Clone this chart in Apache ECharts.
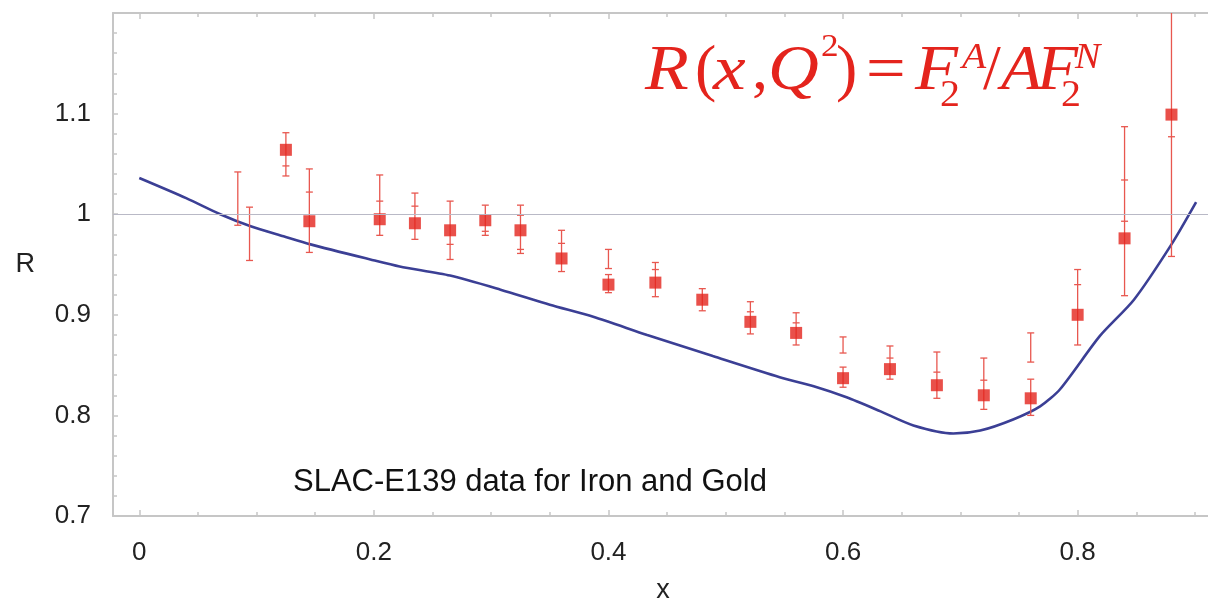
<!DOCTYPE html>
<html><head><meta charset="utf-8">
<script src="https://cdn.jsdelivr.net/npm/echarts@6/dist/echarts.min.js"></script>
<style>html,body{margin:0;padding:0;background:#fff}#c{width:1208px;height:598px}</style>
</head><body><div id="c"></div>
<script>
// ---- data ----
const pointX  = [0.125, 0.145, 0.205, 0.235, 0.265, 0.295, 0.325, 0.360, 0.400, 0.440, 0.480, 0.521, 0.560, 0.600, 0.640, 0.680, 0.720, 0.760, 0.800, 0.840, 0.880];
const pointR  = [1.064, 0.993, 0.995, 0.991, 0.984, 0.994, 0.984, 0.956, 0.930, 0.932, 0.915, 0.893, 0.882, 0.837, 0.846, 0.830, 0.820, 0.817, 0.900, 0.976, 1.099];
const barLow  = [1.038, 0.962, 0.979, 0.975, 0.955, 0.979, 0.961, 0.943, 0.922, 0.918, 0.904, 0.881, 0.870, 0.828, 0.836, 0.817, 0.806, 0.800, 0.870, 0.919, 0.958];
const barHigh = [1.081, 1.045, 1.039, 1.021, 1.013, 1.009, 1.009, 0.984, 0.940, 0.952, 0.926, 0.913, 0.902, 0.848, 0.869, 0.863, 0.857, 0.836, 0.945, 1.087, 1.250];

// inner (statistical) error-bar caps
const tickX = [0.125, 0.145, 0.205, 0.235, 0.265, 0.295, 0.325, 0.325, 0.360, 0.440, 0.521, 0.560, 0.640, 0.680, 0.720, 0.800, 0.840, 0.840, 0.880];
const tickR = [1.048, 1.022, 1.013, 1.008, 0.970, 0.983, 0.965, 0.999, 0.971, 0.945, 0.903, 0.892, 0.857, 0.843, 0.835, 0.930, 0.993, 1.034, 1.077];

// error bars drawn without a marker
const extraX    = [0.084, 0.094, 0.400, 0.600, 0.760];
const extraLow  = [0.989, 0.954, 0.946, 0.862, 0.853];
const extraHigh = [1.042, 1.007, 0.965, 0.878, 0.882];

// theory curve
const curveX = [0, 0.040, 0.069, 0.095, 0.123, 0.146, 0.197, 0.222, 0.265, 0.308, 0.350, 0.387, 0.433, 0.489, 0.546, 0.575, 0.603, 0.632, 0.660, 0.694, 0.717, 0.745, 0.768, 0.785, 0.819, 0.848, 0.880, 0.901];
const curveR = [1.036, 1.016, 1.000, 0.988, 0.978, 0.970, 0.955, 0.948, 0.939, 0.925, 0.910, 0.898, 0.880, 0.859, 0.838, 0.829, 0.818, 0.804, 0.790, 0.782, 0.785, 0.796, 0.809, 0.826, 0.879, 0.915, 0.970, 1.012];

const xMajor = [0, 0.2, 0.4, 0.6, 0.8];
const xMinor = [0.05, 0.1, 0.15, 0.25, 0.3, 0.35, 0.45, 0.5, 0.55, 0.65, 0.7, 0.75, 0.85, 0.9];

// ---- styling ----
const XMIN = -0.0224, XMAX = 0.9154;
const frame = '#c6c6c6';
const red = '#e4241d';
const barColor = '#e8574f';
const labelFont = 'Liberation Sans, Arial, sans-serif';

function renderBar(params, api) {
  const x = api.value(0), lo = api.value(1), hi = api.value(2);
  const a = api.coord([x, lo]), b = api.coord([x, hi]);
  const w = 3.5;
  const st = { stroke: barColor, lineWidth: 1.3 };
  return { type: 'group', children: [
    { type: 'line', shape: { x1: a[0], y1: a[1], x2: b[0], y2: b[1] }, style: st },
    { type: 'line', shape: { x1: a[0] - w, y1: a[1], x2: a[0] + w, y2: a[1] }, style: st },
    { type: 'line', shape: { x1: b[0] - w, y1: b[1], x2: b[0] + w, y2: b[1] }, style: st }
  ]};
}
function renderTick(params, api) {
  const p = api.coord([api.value(0), api.value(1)]);
  return { type: 'line', shape: { x1: p[0] - 3.5, y1: p[1], x2: p[0] + 3.5, y2: p[1] }, style: { stroke: barColor, lineWidth: 1.3 } };
}

// equation glyphs: [text, left, baseline, size, italic, scaleX]
const eq = [
  ['R', 645, 92, 64, true, 1.12], ['(', 695, 92, 64, false, 1], ['x', 713, 92, 64, true, 1.15], [',', 752, 92, 64, false, 1],
  ['Q', 768, 92, 64, true, 1.1], ['2', 821, 57, 32, false, 1.1], [')', 836, 92, 64, false, 1], ['=', 866, 92, 64, false, 1.1],
  ['F', 915, 92, 64, true, 1.1], ['A', 962, 70, 36, true, 1.1], ['2', 940, 108, 38, false, 1.05], ['/', 983, 92, 64, false, 1],
  ['A', 1001, 92, 64, true, 1.05], ['F', 1037, 92, 64, true, 1.05], ['N', 1075, 70, 36, true, 1.05], ['2', 1061, 108, 38, false, 1.05]
];
const eqGraphics = eq.map(g => ({
  type: 'text', x: g[1], y: g[2] - 0.305 * g[3], scaleX: g[5], silent: true,
  style: { text: g[0], fill: red, textAlign: 'left', verticalAlign: 'middle',
           font: (g[4] ? 'italic ' : '') + g[3] + 'px "Liberation Serif", "Times New Roman", serif' }
}));

const chart = echarts.init(document.getElementById('c'));
chart.setOption({
  animation: false,
  backgroundColor: '#fff',
  grid: { left: 113, top: 13, right: -5, bottom: 82, containLabel: false, outerBoundsMode: 'none' },
  xAxis: [
    { type: 'value', position: 'bottom', min: XMIN, max: XMAX, name: 'x', nameLocation: 'middle', nameGap: 61,
      nameTextStyle: { fontSize: 27, color: '#222', fontFamily: labelFont },
      axisLine: { show: true, onZero: false, lineStyle: { color: frame, width: 2 } },
      axisTick: { show: true, inside: true, length: 6, customValues: xMajor, lineStyle: { color: frame, width: 1.5 } },
      axisLabel: { customValues: xMajor, margin: 24, fontSize: 26, color: '#222', fontFamily: labelFont, formatter: v => String(+v.toFixed(1)) },
      splitLine: { show: false } },
    { type: 'value', position: 'bottom', min: XMIN, max: XMAX,
      axisLine: { show: false, onZero: false }, axisLabel: { show: false }, splitLine: { show: false },
      axisTick: { show: true, inside: true, length: 4, customValues: xMinor, lineStyle: { color: frame, width: 1.5 } } },
    { type: 'value', position: 'top', min: XMIN, max: XMAX,
      axisLine: { show: true, onZero: false, lineStyle: { color: frame, width: 2 } }, axisLabel: { show: false }, splitLine: { show: false },
      axisTick: { show: true, inside: true, length: 4, customValues: xMinor, lineStyle: { color: frame, width: 1.5 } } },
    { type: 'value', position: 'top', min: XMIN, max: XMAX,
      axisLine: { show: false, onZero: false }, axisLabel: { show: false }, splitLine: { show: false },
      axisTick: { show: true, inside: true, length: 6, customValues: xMajor, lineStyle: { color: frame, width: 1.5 } } }
  ],
  yAxis: [
    { type: 'value', position: 'left', min: 0.7, max: 1.2, interval: 0.1, name: 'R', nameLocation: 'middle', nameGap: 78, nameRotate: 0,
      nameTextStyle: { fontSize: 27, color: '#222', fontFamily: labelFont },
      axisLine: { show: true, onZero: false, lineStyle: { color: frame, width: 2 } },
      axisTick: { show: true, inside: true, length: 5, lineStyle: { color: frame, width: 1.5 } },
      minorTick: { show: true, splitNumber: 5, length: 4, lineStyle: { color: frame, width: 1.5 } },
      axisLabel: { margin: 22, fontSize: 26, color: '#222', fontFamily: labelFont, showMaxLabel: false,
                   formatter: v => String(+v.toFixed(1)) },
      splitLine: { show: false } }
  ],
  graphic: [
    { type: 'text', x: 293, y: 482, silent: true,
      style: { text: 'SLAC-E139 data for Iron and Gold', fill: '#111', textAlign: 'left', verticalAlign: 'middle',
               font: '31px "Liberation Sans", Arial, sans-serif' } }
  ].concat(eqGraphics),
  series: [
    { type: 'line', z: 2, data: curveX.map((x, i) => [x, curveR[i]]), smooth: 0.25, showSymbol: false, symbol: 'none',
      lineStyle: { color: '#3b3f95', width: 2.6 },
      markLine: { silent: true, symbol: 'none', label: { show: false },
                  lineStyle: { color: '#b9b9c6', width: 1, type: 'solid' }, data: [{ yAxis: 1 }] } },
    { type: 'custom', z: 3, clip: true, renderItem: renderBar, encode: { x: 0, y: [1, 2] },
      data: pointX.map((x, i) => [x, barLow[i], barHigh[i]]) },
    { type: 'custom', z: 3, clip: true, renderItem: renderBar, encode: { x: 0, y: [1, 2] },
      data: extraX.map((x, i) => [x, extraLow[i], extraHigh[i]]) },
    { type: 'custom', z: 3, clip: true, renderItem: renderTick, encode: { x: 0, y: 1 },
      data: tickX.map((x, i) => [x, tickR[i]]) },
    { type: 'scatter', z: 4, symbol: 'rect', symbolSize: 12, itemStyle: { color: red },
      data: pointX.map((x, i) => [x, pointR[i]]) }
  ]
});
</script></body></html>
